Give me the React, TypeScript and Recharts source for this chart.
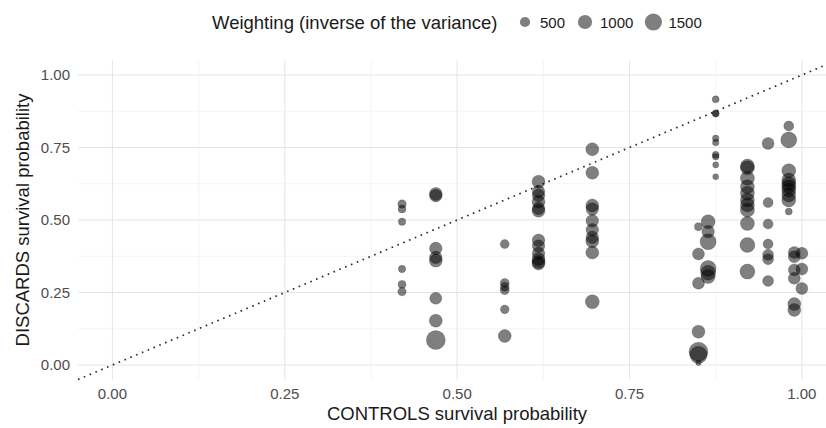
import { ScatterChart, Scatter, XAxis, YAxis, ZAxis, CartesianGrid, ReferenceLine } from 'recharts';

// one entry per column of points (CONTROLS survival probability)
const controlGroups = [0.42, 0.469, 0.569, 0.618, 0.696, 0.85, 0.864, 0.875, 0.921, 0.951, 0.981, 0.989, 1.0];

// DISCARDS survival probability, per column
const discardGroups = [
  [0.555, 0.538, 0.494, 0.331, 0.278, 0.253],
  [0.59, 0.584, 0.402, 0.371, 0.36, 0.23, 0.153, 0.086],
  [0.417, 0.283, 0.27, 0.258, 0.192, 0.1],
  [0.632, 0.598, 0.585, 0.563, 0.54, 0.532, 0.43, 0.41, 0.385, 0.365, 0.355, 0.35],
  [0.744, 0.663, 0.55, 0.538, 0.497, 0.466, 0.44, 0.427, 0.388, 0.218],
  [0.477, 0.383, 0.282, 0.115, 0.046, 0.035, 0.007],
  [0.494, 0.46, 0.425, 0.333, 0.318, 0.305],
  [0.916, 0.868, 0.866, 0.782, 0.767, 0.725, 0.718, 0.69, 0.649],
  [0.686, 0.68, 0.644, 0.615, 0.592, 0.569, 0.552, 0.534, 0.488, 0.414, 0.322],
  [0.764, 0.56, 0.486, 0.417, 0.38, 0.365, 0.29],
  [0.824, 0.776, 0.67, 0.638, 0.625, 0.615, 0.603, 0.586, 0.569, 0.529],
  [0.388, 0.373, 0.328, 0.299, 0.21, 0.19],
  [0.385, 0.331, 0.264],
];

// weighting (inverse of the variance), per column
const weightGroups = [
  [330, 290, 245, 245, 290, 330],
  [840, 785, 785, 785, 840, 710, 840, 1840],
  [380, 380, 380, 380, 350, 840],
  [840, 785, 785, 840, 785, 840, 785, 785, 785, 840, 840, 840],
  [840, 840, 840, 785, 785, 785, 785, 840, 840, 980],
  [292, 708, 708, 838, 1840, 1500, 100],
  [980, 785, 1290, 1290, 1130, 980],
  [214, 214, 185, 185, 185, 214, 185, 150, 150],
  [980, 980, 980, 980, 980, 980, 980, 980, 980, 1130, 1130],
  [708, 479, 479, 479, 589, 589, 589],
  [479, 1292, 980, 980, 980, 980, 980, 980, 980, 214],
  [708, 708, 708, 708, 838, 838],
  [708, 708, 708],
];

const axisTicks = [0, 0.25, 0.5, 0.75, 1];
const minorTicks = [0.125, 0.375, 0.625, 0.875];
const legendBreaks = [500, 1000, 1500];

const points = controlGroups.flatMap((x, i) =>
  discardGroups[i].map((y, j) => ({ x, y, w: weightGroups[i][j] }))
);

// area grows linearly with the weight
const sizeFor = (w: number) => Math.PI * (2 + 0.048 * w);
const radiusFor = (w: number) => Math.sqrt(sizeFor(w) / Math.PI);

const FONT = '"Liberation Sans", Arial, sans-serif';

function SizeLegend() {
  let cursor = 516;
  const items = legendBreaks.map((b) => {
    const label = String(b);
    const cx = cursor + 9;
    const tx = cursor + 24;
    cursor = tx + label.length * 8.34 + 11;
    return (
      <g key={b}>
        <circle cx={cx} cy={22} r={radiusFor(b)} fill="#000" fillOpacity={0.5} />
        <text x={tx} y={27.5} fontSize={15} fill="#1a1a1a">{label}</text>
      </g>
    );
  });
  return (
    <svg width={826} height={45} style={{ position: 'absolute', left: 0, top: 0, fontFamily: FONT }}>
      <text x={212} y={28.5} fontSize={18.5} fill="#1a1a1a">Weighting (inverse of the variance)</text>
      {items}
    </svg>
  );
}

export default function App() {
  return (
    <div style={{ position: 'absolute', left: 0, top: 0, width: 826, height: 428, background: '#fff', fontFamily: FONT }}>
      <ScatterChart width={826} height={428} margin={{ top: 60.5, right: 0, bottom: 0, left: 0 }}>
        <CartesianGrid
          horizontalValues={minorTicks}
          verticalValues={minorTicks}
          stroke="#f1f1f1"
          strokeWidth={0.8}
        />
        <CartesianGrid
          horizontalValues={axisTicks}
          verticalValues={axisTicks}
          stroke="#e6e6e6"
          strokeWidth={1.1}
        />
        <XAxis
          type="number"
          dataKey="x"
          domain={[-0.05, 1.035]}
          ticks={axisTicks}
          tickFormatter={(v: number) => v.toFixed(2)}
          axisLine={false}
          tickLine={false}
          tickSize={0}
          tickMargin={8.8}
          height={48.5}
          tick={{ fill: '#4d4d4d', fontSize: 15, fontFamily: FONT }}
          label={{
            content: () => (
              <text x={457} y={419.5} textAnchor="middle" fontSize={18.5} fill="#1a1a1a" fontFamily={FONT}>
                CONTROLS survival probability
              </text>
            ),
          }}
        />
        <YAxis
          type="number"
          dataKey="y"
          domain={[-0.05, 1.05]}
          ticks={axisTicks}
          tickFormatter={(v: number) => v.toFixed(2)}
          axisLine={false}
          tickLine={false}
          tickSize={0}
          tickMargin={8}
          width={78}
          tick={{ fill: '#4d4d4d', fontSize: 15, fontFamily: FONT }}
          label={{
            content: () => (
              <text
                x={28.5}
                y={220}
                transform="rotate(-90, 28.5, 220)"
                textAnchor="middle"
                fontSize={18.5}
                fill="#1a1a1a"
                fontFamily={FONT}
              >
                DISCARDS survival probability
              </text>
            ),
          }}
        />
        <ZAxis type="number" dataKey="w" domain={[0, 2000]} range={[sizeFor(0), sizeFor(2000)]} />
        <Scatter
          data={points}
          fill="#000"
          fillOpacity={0.5}
          stroke="#000"
          strokeOpacity={0.3}
          strokeWidth={0.6}
          isAnimationActive={false}
        />
        <ReferenceLine
          segment={[{ x: -0.05, y: -0.05 }, { x: 1.035, y: 1.035 }]}
          stroke="#2a2a2a"
          strokeWidth={1.7}
          strokeDasharray="1.6 4.7"
          ifOverflow="visible"
        />
      </ScatterChart>
      <SizeLegend />
    </div>
  );
}
